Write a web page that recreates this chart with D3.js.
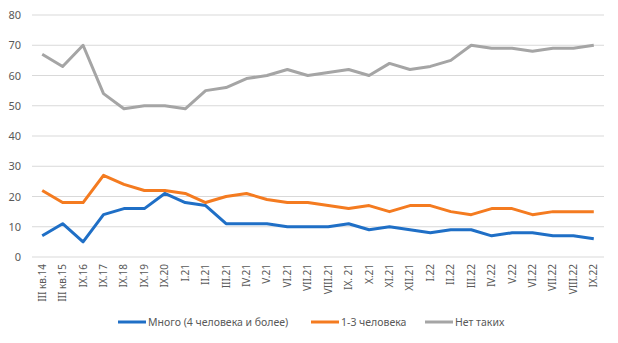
<!DOCTYPE html>
<html><head><meta charset="utf-8">
<script src="https://cdn.jsdelivr.net/npm/d3@7"></script>
<style>body{margin:0;background:#fff;font-family:"Noto Sans","Open Sans",sans-serif;}</style>
</head><body><svg id="c" width="618" height="343"></svg>
<script>
const categories = ["III кв.14","III кв.15","IX.16","IX.17","IX.18","IX.19","IX.20","I.21","II.21","III.21","IV.21","V.21","VI.21","VII.21","VIII.21","IX. 21","X.21","XI.21","XII.21","I.22","II.22","III.22","IV.22","V.22","VI.22","VII.22","VIII.22","IX.22"];
const many = [7,11,5,14,16,16,21,18,17,11,11,11,10,10,10,11,9,10,9,8,9,9,7,8,8,7,7,6];
const few = [22,18,18,27,24,22,22,21,18,20,21,19,18,18,17,16,17,15,17,17,15,14,16,16,14,15,15,15];
const none = [67,63,70,54,49,50,50,49,55,56,59,60,62,60,61,62,60,64,62,63,65,70,69,69,68,69,69,70];
const yTicks = [0,10,20,30,40,50,60,70,80];
const seriesNames = ["Много (4 человека и более)","1-3 человека","Нет таких"];
const colors = ["#1F6FC6","#F47B20","#A5A5A5"];

const svg = d3.select("#c");
const x = d3.scaleBand().domain(categories).range([32,604]);
const y = d3.scaleLinear().domain([0,80]).range([257,15]);
const txt = "#595959";

svg.append("g").selectAll("line").data(yTicks).join("line")
  .attr("x1",32).attr("x2",604).attr("y1",d=>y(d)).attr("y2",d=>y(d))
  .attr("stroke","#d9d9d9").attr("stroke-width",1);
svg.append("g").selectAll("text").data(yTicks).join("text")
  .attr("x",21).attr("y",d=>y(d)+4).attr("text-anchor","end")
  .attr("font-size",11).attr("fill",txt).text(d=>d);
svg.append("g").selectAll("text").data(categories).join("text")
  .attr("transform",d=>`translate(${x(d)+x.bandwidth()/2+3.5},264) rotate(-90)`)
  .attr("text-anchor","end").attr("font-size",10).attr("fill",txt).text(d=>d);

const line = d3.line().x((d,i)=>x(categories[i])+x.bandwidth()/2).y(d=>y(d));
[many,few,none].forEach((s,k)=>{
  svg.append("path").datum(s).attr("d",line).attr("fill","none")
    .attr("stroke",colors[k]).attr("stroke-width",3).attr("stroke-linejoin","round");
});

const lx = [118,311,425];
seriesNames.forEach((n,k)=>{
  svg.append("line").attr("x1",lx[k]).attr("x2",lx[k]+28).attr("y1",322).attr("y2",322)
    .attr("stroke",colors[k]).attr("stroke-width",3);
  svg.append("text").attr("x",lx[k]+30).attr("y",326).attr("font-size",10.5).attr("fill",txt).text(n);
});
</script></body></html>
